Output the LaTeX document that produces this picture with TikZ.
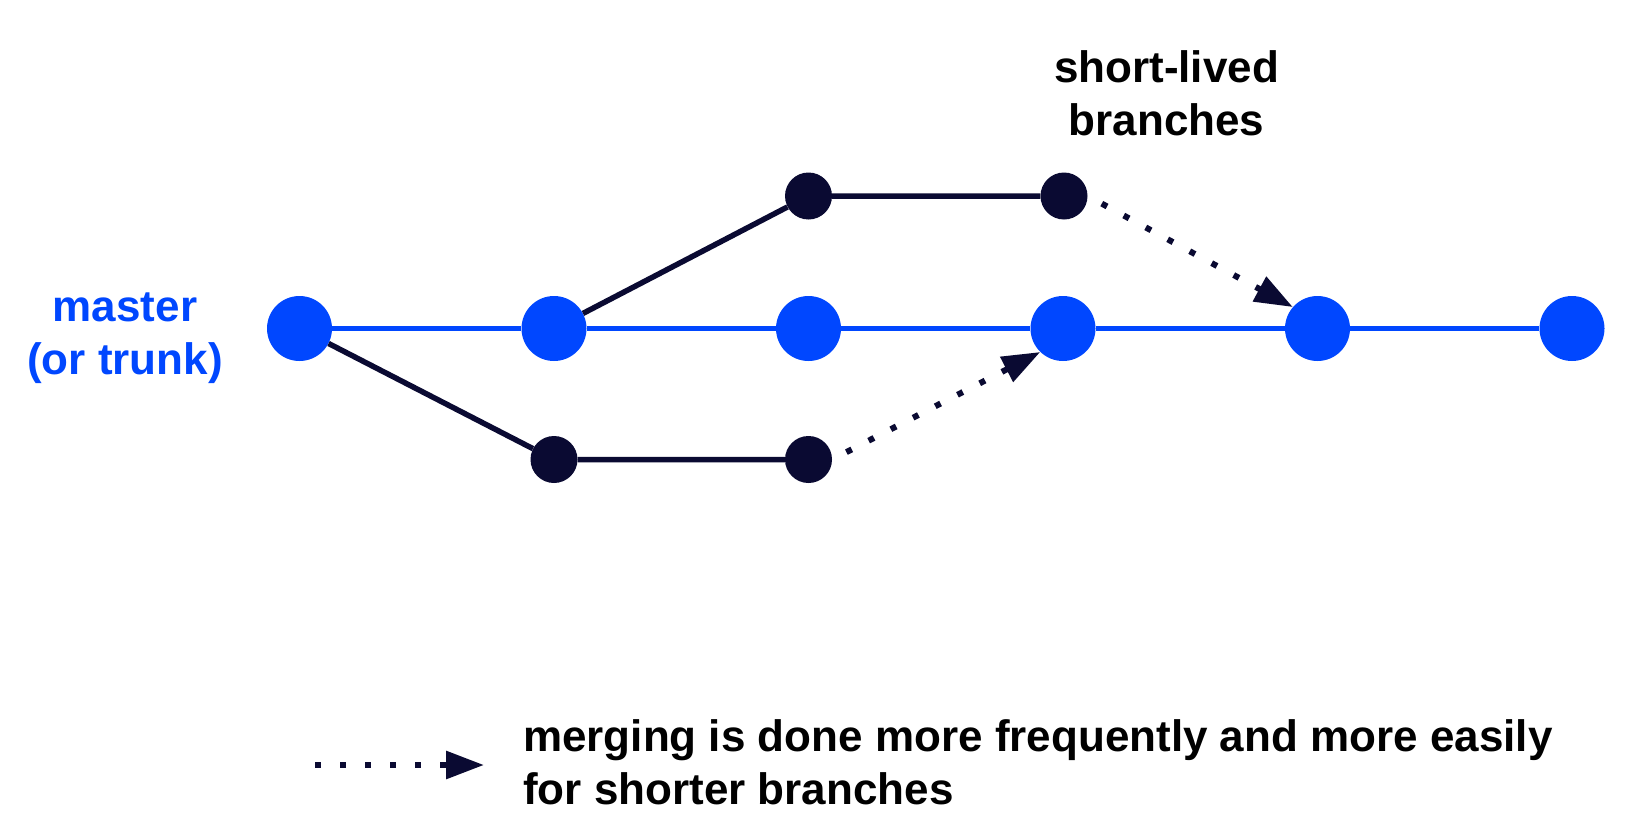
\documentclass[tikz,border=0pt]{standalone}
\usepackage{fontspec}
\setmainfont{Liberation Sans}
\usetikzlibrary{arrows.meta}
\definecolor{gitblue}{HTML}{0047FF}
\definecolor{navy}{HTML}{0A0A32}
\begin{document}
\begin{tikzpicture}[x=1pt,y=-1pt,
  commit/.style={circle,fill=gitblue,draw=none,minimum size=65pt,inner sep=0pt},
  bcommit/.style={circle,fill=navy,draw=none,minimum size=47pt,inner sep=0pt},
  trunkline/.style={draw=gitblue,line width=5.5pt},
  branchline/.style={draw=navy,line width=5.5pt},
  mergearrow/.style={draw=navy,line width=6pt,dash pattern=on 6pt off 19pt,
    -{Triangle[length=38pt,width=27pt]}},
  lbl/.style={font=\fontsize{44}{53}\selectfont\bfseries,inner sep=0pt}
]
\useasboundingbox[fill=white] (0,0) rectangle (1636,835);
% trunk commits
\node[commit] (m1) at (299.5,328.5) {};
\node[commit] (m2) at (554,328.5) {};
\node[commit] (m3) at (808.5,328.5) {};
\node[commit] (m4) at (1063,328.5) {};
\node[commit] (m5) at (1317.5,328.5) {};
\node[commit] (m6) at (1572,328.5) {};
% branch commits
\node[bcommit] (t1) at (808.5,196) {};
\node[bcommit] (t2) at (1064,196) {};
\node[bcommit] (b1) at (554,459.5) {};
\node[bcommit] (b2) at (808.5,459.5) {};
% trunk
\draw[trunkline] (m1) -- (m2) -- (m3) -- (m4) -- (m5) -- (m6);
% branches
\draw[branchline] (m2) -- (t1) -- (t2);
\draw[branchline] (m1) -- (b1) -- (b2);
% merges
\draw[mergearrow,shorten <=16pt] (t2.east) -- (m5.139);
\draw[mergearrow,shorten <=16pt] (b2.east) -- (m4.226);
% labels (base anchor = baseline of the last line)
\node[lbl,text=gitblue,align=center,anchor=base] (master) at (125,374) {master\\(or trunk)};
\node[lbl,text=black,align=center,anchor=base] (short) at (1166.5,135) {short-lived\\branches};
% legend
\coordinate (lg1) at (315,765);
\coordinate (lg2) at (484,765);
\draw[mergearrow] (lg1) -- (lg2);
\node[lbl,text=black,align=left,anchor=base west] (legend) at (523,804) {merging is done more frequently and more easily\\for shorter branches};
\end{tikzpicture}
\end{document}
